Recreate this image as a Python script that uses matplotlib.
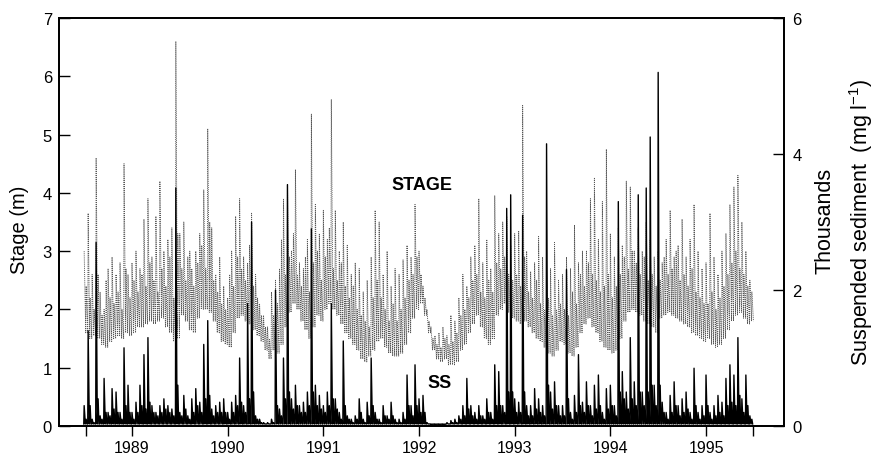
import numpy as np
import matplotlib
matplotlib.use("Agg")
import matplotlib.pyplot as plt

plt.rcParams["font.family"] = ["Liberation Sans", "DejaVu Sans"]

# --- record: half-monthly bins from mid-1988 to mid-1995 ---
START_YEAR = 1988.5
BINS_PER_YEAR = 24

# stage (m): main flood peak, a smaller secondary rise and the recession low per half-month
stage_peak = [
    3.0, 3.65, 2.6, 4.6, 2.3, 2.0, 2.7, 2.9, 2.6, 2.8, 4.5, 2.6,
    2.8, 3.0, 2.7, 3.55, 3.9, 2.9, 3.6, 4.2, 3.0, 3.2, 3.4, 6.6,
    3.3, 3.5, 2.9, 2.7, 3.0, 3.3, 4.05, 5.1, 3.4, 2.6, 2.9, 2.4,
    2.2, 3.0, 3.6, 3.9, 2.9, 2.8, 3.65, 2.6, 2.1, 1.9, 1.7, 2.3,
    2.5, 2.7, 3.9, 4.15, 3.0, 4.4, 2.8, 2.7, 3.2, 5.35, 3.8, 3.3,
    3.7, 3.2, 5.6, 3.7, 3.0, 3.5, 3.1, 2.6, 2.8, 2.7, 2.3, 2.5,
    2.9, 3.7, 3.5, 2.6, 3.0, 2.4, 2.7, 2.6, 2.85, 3.1, 2.9, 3.8,
    3.0, 2.4, 2.0, 1.7, 1.55, 1.6, 1.7, 1.55, 1.9, 1.8, 2.2, 2.6,
    2.4, 2.9, 3.1, 3.9, 2.8, 3.2, 2.7, 3.95, 3.3, 3.5, 3.6, 3.1,
    3.3, 3.35, 5.5, 3.0, 2.65, 2.8, 3.25, 2.9, 2.6, 2.7, 3.15, 2.5,
    2.6, 2.9, 2.7, 3.45, 2.8, 3.0, 3.0, 3.9, 4.25, 3.2, 3.85, 4.75,
    3.3, 2.9, 3.4, 3.1, 4.2, 4.1, 3.0, 3.4, 3.0, 3.5, 3.2, 2.9,
    3.0, 2.8, 3.2, 3.7, 2.9, 3.1, 3.55, 2.9, 3.2, 3.8, 3.0, 2.7,
    2.8, 3.65, 2.9, 2.6, 3.0, 3.3, 3.8, 4.1, 4.3, 3.5, 3.0, 2.5,
]
stage_minor = [
    2.4, 2.2, 2.0, 2.6, 1.9, 2.5, 2.2, 2.1, 2.3, 2.0, 2.7, 2.2,
    2.5, 2.3, 2.6, 2.4, 2.8, 2.5, 2.3, 2.7, 2.4, 2.9, 2.2, 3.3,
    2.7, 2.5, 3.0, 2.4, 2.8, 3.1, 2.7, 3.5, 2.5, 2.3, 2.1, 2.0,
    2.6, 2.4, 2.9, 2.7, 2.5, 3.1, 2.4, 2.2, 1.9, 1.7, 1.5, 1.9,
    2.1, 3.2, 2.6, 2.9, 3.3, 2.6, 2.4, 2.9, 2.3, 2.8, 3.0, 2.5,
    2.9, 3.4, 2.7, 2.5, 2.8, 2.4, 2.2, 2.4, 2.0, 1.9, 1.8, 1.7,
    2.2, 2.5, 2.2, 2.0, 1.8, 2.1, 1.8, 2.0, 2.2, 2.5, 2.6, 2.9,
    2.6, 2.2, 1.8, 1.5, 1.4, 1.35, 1.5, 1.4, 1.45, 1.6, 1.9, 2.0,
    2.2, 2.5, 2.6, 2.3, 2.2, 2.5, 2.3, 2.8, 2.7, 2.9, 2.6, 2.5,
    2.6, 2.4, 2.9, 2.3, 2.2, 2.5, 2.1, 2.0, 2.2, 1.9, 2.0, 2.1,
    2.0, 1.9, 2.3, 2.1, 2.6, 2.4, 2.8, 2.6, 2.5, 2.3, 2.4, 2.6,
    2.2, 2.4, 2.6, 2.9, 2.7, 3.0, 2.8, 2.6, 2.9, 2.5, 2.6, 2.4,
    2.5, 2.9, 2.6, 2.7, 3.0, 2.5, 2.6, 2.4, 2.7, 2.3, 2.2, 2.1,
    2.1, 2.3, 2.0, 2.2, 2.4, 2.6, 2.8, 3.0, 2.7, 2.6, 2.4, 2.3,
]
stage_low = [
    1.6, 1.5, 1.55, 1.5, 1.4, 1.35, 1.45, 1.5, 1.55, 1.5, 1.6, 1.55,
    1.6, 1.7, 1.7, 1.75, 1.8, 1.75, 1.8, 1.85, 1.7, 1.6, 1.45, 1.5,
    1.9, 1.8, 1.65, 1.6, 1.85, 2.0, 2.0, 1.95, 1.8, 1.6, 1.45, 1.4,
    1.35, 1.6, 1.85, 1.9, 1.8, 1.75, 1.65, 1.55, 1.45, 1.3, 1.15, 1.3,
    1.25, 1.4, 1.7, 1.95, 2.1, 2.0, 1.8, 1.65, 1.5, 1.7, 1.9, 1.8,
    2.0, 2.1, 2.0, 1.9, 1.75, 1.6, 1.5, 1.4, 1.3, 1.15, 1.1, 1.2,
    1.3, 1.45, 1.5, 1.35, 1.25, 1.2, 1.2, 1.25, 1.4, 1.6, 1.85, 2.0,
    2.1, 1.9, 1.6, 1.3, 1.15, 1.1, 1.15, 1.05, 1.05, 1.1, 1.3, 1.4,
    1.6, 1.75, 1.9, 1.7, 1.5, 1.4, 1.5, 1.9, 2.0, 2.1, 1.95, 1.85,
    1.8, 1.75, 1.8, 1.7, 1.6, 1.5, 1.45, 1.35, 1.25, 1.2, 1.3, 1.45,
    1.4, 1.25, 1.2, 1.35, 1.6, 1.75, 1.85, 1.7, 1.6, 1.45, 1.35, 1.3,
    1.25, 1.3, 1.5, 1.8, 1.95, 2.0, 1.95, 1.9, 1.8, 1.75, 1.7, 1.6,
    1.85, 1.9, 1.95, 1.9, 1.85, 1.8, 1.75, 1.7, 1.6, 1.55, 1.5, 1.45,
    1.5, 1.4, 1.35, 1.4, 1.5, 1.65, 1.8, 1.9, 1.95, 1.85, 1.75, 1.8,
]
# suspended sediment (thousands mg/l): main event peak and a smaller pulse per half-month
ss_peak = [
    0.3, 1.4, 0.1, 2.7, 0.15, 0.7, 0.2, 0.55, 0.5, 0.2, 1.15, 0.6,
    0.2, 0.35, 0.6, 1.05, 1.3, 0.3, 0.2, 0.3, 0.4, 0.3, 0.25, 3.5,
    0.2, 0.45, 0.15, 0.4, 0.55, 0.35, 1.2, 1.55, 0.25, 0.3, 0.35, 0.4,
    0.2, 0.35, 0.45, 1.0, 0.3, 1.8, 3.0, 0.15, 0.1, 0.05, 0.05, 0.1,
    2.0, 0.25, 1.0, 3.55, 0.4, 0.6, 0.3, 0.35, 0.5, 2.9, 0.6, 0.45,
    0.3, 0.5, 1.8, 0.4, 0.2, 1.25, 0.15, 0.1, 0.15, 0.4, 0.1, 0.35,
    1.0, 0.2, 0.1, 0.3, 0.15, 0.35, 0.1, 0.1, 0.2, 0.75, 0.3, 0.9,
    0.4, 0.45, 0.05, 0.02, 0.02, 0.02, 0.02, 0.05, 0.08, 0.1, 0.15, 0.3,
    0.7, 0.3, 0.2, 0.3, 0.15, 0.4, 0.2, 0.9, 0.8, 0.3, 3.2, 3.4,
    0.4, 0.35, 3.1, 0.3, 0.3, 0.55, 0.4, 0.3, 4.15, 0.5, 0.65, 0.3,
    0.3, 2.3, 0.2, 0.45, 1.05, 0.35, 0.65, 0.3, 0.6, 0.75, 0.2, 0.55,
    0.6, 0.3, 3.3, 0.8, 0.5, 1.3, 0.65, 3.4, 0.5, 3.5, 4.25, 0.6,
    5.2, 0.35, 0.2, 0.45, 0.65, 0.3, 0.4, 0.5, 0.2, 0.85, 0.2, 0.3,
    0.75, 0.2, 0.3, 0.45, 0.35, 0.7, 0.9, 0.75, 1.3, 0.4, 0.75, 0.15,
]
ss_minor = [
    0.1, 0.3, 0.05, 0.4, 0.1, 0.2, 0.15, 0.25, 0.2, 0.1, 0.3, 0.2,
    0.1, 0.2, 0.3, 0.25, 0.35, 0.2, 0.15, 0.2, 0.25, 0.2, 0.15, 0.6,
    0.15, 0.25, 0.1, 0.2, 0.3, 0.2, 0.4, 0.45, 0.15, 0.2, 0.2, 0.2,
    0.1, 0.2, 0.3, 0.35, 0.2, 0.4, 0.5, 0.1, 0.05, 0.03, 0.03, 0.05,
    0.3, 0.15, 0.4, 0.5, 0.25, 0.3, 0.2, 0.2, 0.3, 0.5, 0.3, 0.25,
    0.2, 0.3, 0.4, 0.25, 0.1, 0.3, 0.1, 0.05, 0.1, 0.2, 0.05, 0.15,
    0.3, 0.1, 0.05, 0.15, 0.1, 0.15, 0.05, 0.05, 0.1, 0.3, 0.15, 0.3,
    0.2, 0.2, 0.03, 0.02, 0.02, 0.02, 0.02, 0.03, 0.05, 0.05, 0.1, 0.15,
    0.25, 0.15, 0.1, 0.15, 0.1, 0.2, 0.1, 0.3, 0.3, 0.2, 0.5, 0.5,
    0.2, 0.2, 0.5, 0.15, 0.15, 0.25, 0.2, 0.15, 0.6, 0.25, 0.3, 0.15,
    0.15, 0.4, 0.1, 0.2, 0.3, 0.2, 0.3, 0.15, 0.25, 0.3, 0.1, 0.25,
    0.3, 0.15, 0.5, 0.4, 0.25, 0.4, 0.3, 0.5, 0.3, 0.5, 0.6, 0.3,
    0.6, 0.2, 0.1, 0.2, 0.3, 0.15, 0.2, 0.25, 0.1, 0.3, 0.1, 0.15,
    0.3, 0.1, 0.15, 0.2, 0.15, 0.3, 0.35, 0.3, 0.45, 0.2, 0.3, 0.1,
]
SS_FLOOR = 0.03

years = [1989, 1990, 1991, 1992, 1993, 1994, 1995]
record_ends = [1988.52, 1995.49]

# --- build the traces: quick rise to each peak, recession to the low ---
n = len(stage_peak)
t = START_YEAR + np.arange(n) / BINS_PER_YEAR
dt = 1.0 / BINS_PER_YEAR
st_t = np.ravel(np.column_stack([t, t + 0.4 * dt, t + 0.5 * dt, t + 0.9 * dt]))
st_v = np.ravel(np.column_stack([stage_peak, stage_low, stage_minor, stage_low]))
floor = np.full(n, SS_FLOOR)
ss_t = np.ravel(np.column_stack([t - 0.1 * dt, t, t + 0.3 * dt, t + 0.5 * dt, t + 0.7 * dt]))
ss_v = np.ravel(np.column_stack([floor, ss_peak, floor, ss_minor, floor]))

# --- plot ---
fig = plt.figure(figsize=(8.74, 4.6), dpi=100)
ax = fig.add_axes([0.0675, 0.0717, 0.8295, 0.887])
ax2 = ax.twinx()

ax.plot(st_t, st_v, color="#555555", lw=0.65, ls=(0, (1.2, 1.1)))
ax2.plot(ss_t, ss_v, color="black", lw=1.0)

ax.set_xlim(1988.237, 1995.815)
ax.set_ylim(0, 7)
ax2.set_ylim(0, 6)

ax.set_yticks(range(0, 8))
ax2.set_yticks([0, 2, 4, 6])
ax.set_xticks(years)
ax.set_xticklabels([str(y) for y in years], fontsize=11.5)
ax.set_xticks(record_ends, minor=True)

ax.tick_params(axis="y", direction="in", length=8, width=1, labelsize=12, pad=5)
ax2.tick_params(axis="y", direction="in", length=8, width=1, labelsize=12, pad=6)
ax.tick_params(axis="x", which="both", direction="out", length=7, width=1, pad=3)

for a in (ax, ax2):
    for s in a.spines.values():
        s.set_linewidth(1.3)

fig.text(0.022, 0.50, "Stage (m)", rotation=90, ha="center", va="center", fontsize=14.5)
fig.text(0.944, 0.52, "Thousands", rotation=90, ha="center", va="center", fontsize=15.5)
fig.text(0.985, 0.517, "Suspended sediment  (mg l$^{\\mathregular{-1}}$)", rotation=90,
         ha="center", va="center", fontsize=15.5)

ax.text(1992.03, 4.15, "STAGE", ha="center", va="center", fontsize=13, fontweight="bold")
ax.text(1992.22, 0.75, "SS", ha="center", va="center", fontsize=13, fontweight="bold")

fig.savefig("out.png", dpi=100)
